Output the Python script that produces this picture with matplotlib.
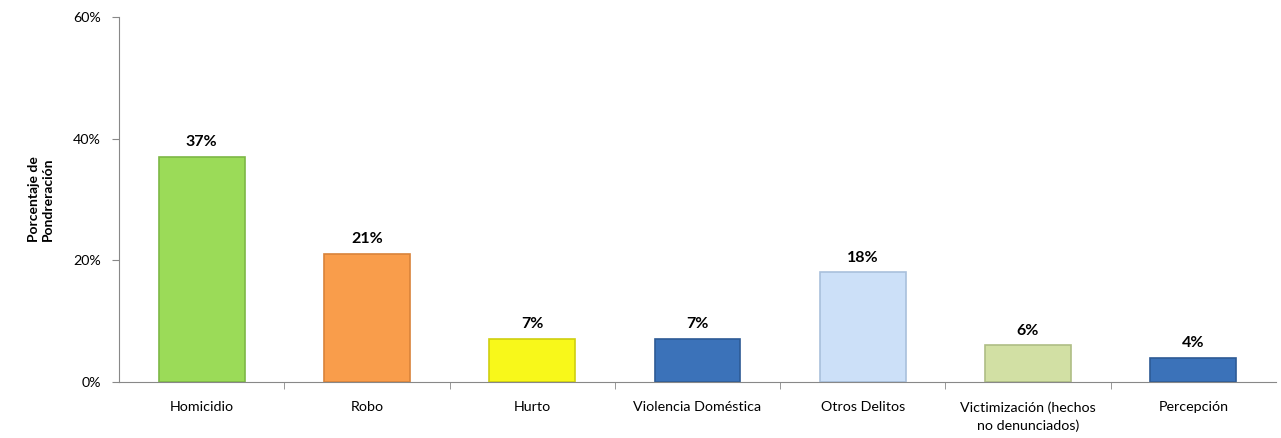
import numpy as np
from matplotlib import pyplot as plt
from matplotlib.ticker import PercentFormatter

categorias = ["Homicidio", "Robo", "Hurto", "Violencia Doméstica", "Otros Delitos",
              "Victimización (hechos\nno denunciados)", "Percepción"]
valores = [37, 21, 7, 7, 18, 6, 4]
colores = ["#9BDB58", "#F99D4B", "#F8F81A", "#3B72B9", "#CCE0F8", "#D2E0A4", "#3B72B9"]
bordes = ["#7DB845", "#D9833A", "#CFCF10", "#2D5A95", "#A9C0DC", "#AFBE85", "#2D5A95"]

plt.rcParams['font.family'] = ['Lato', 'DejaVu Sans']

fig = plt.figure(figsize=(12.81, 4.38), dpi=100)
ax = fig.add_axes([0.093, 0.128, 0.903, 0.833])

x = np.arange(len(categorias))
barras = ax.bar(x, valores, width=0.52, color=colores, edgecolor=bordes, linewidth=1.2, zorder=2)

for b, v in zip(barras, valores):
    ax.text(b.get_x() + b.get_width() / 2, v + 1.3, f"{v}%", ha="center", va="bottom",
            fontsize=11.5, fontweight="bold", color="black")

ax.set_xlim(-0.5, len(categorias) - 0.5)
ax.set_ylim(0, 60)
ax.set_yticks([0, 20, 40, 60])
ax.yaxis.set_major_formatter(PercentFormatter(decimals=0))
ax.set_xticks(x)
ax.set_xticklabels(categorias, fontsize=10.3, linespacing=1.5)
ax.set_xticks(np.arange(0.5, len(categorias) - 0.5, 1), minor=True)
ax.tick_params(axis="x", which="major", length=0, pad=14)
ax.tick_params(axis="x", which="minor", length=5, color="#888888", direction="out")
ax.tick_params(axis="y", length=5, color="#888888", labelsize=10.3, pad=8)

for s in ["top", "right"]:
    ax.spines[s].set_visible(False)
for s in ["left", "bottom"]:
    ax.spines[s].set_color("#888888")

ax.set_ylabel("Porcentaje de\nPondreración", fontsize=10, fontweight="bold", labelpad=14)

fig.savefig("out.png", dpi=100)
